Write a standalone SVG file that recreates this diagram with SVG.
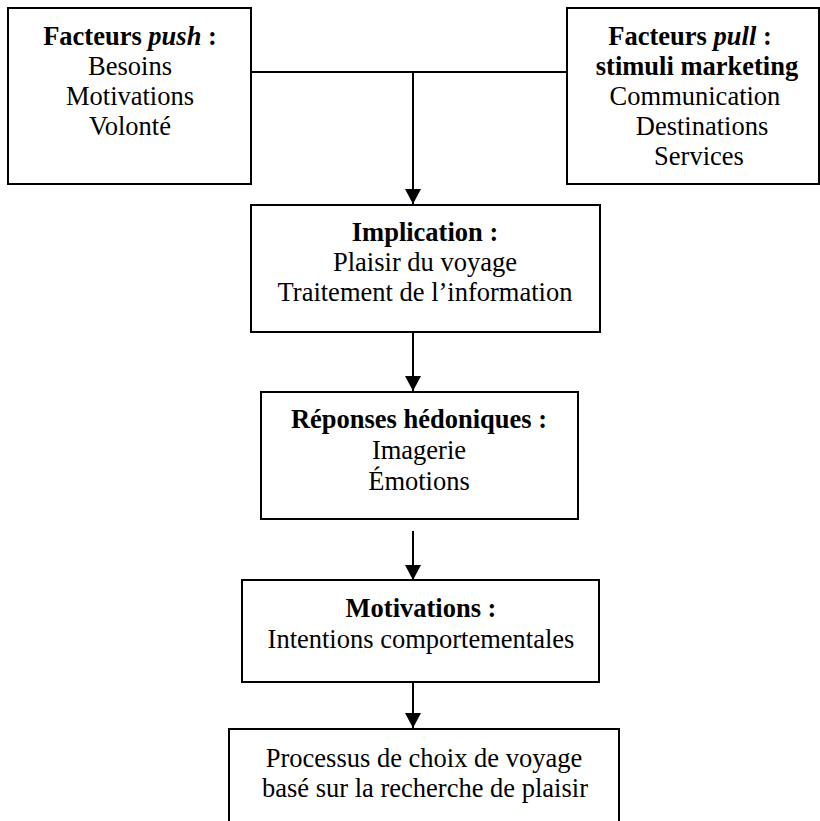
<svg xmlns="http://www.w3.org/2000/svg" width="820" height="821" viewBox="0 0 820 821">
<defs>
<marker id="ah" markerUnits="userSpaceOnUse" markerWidth="16" markerHeight="16" viewBox="0 0 16 16" refX="15" refY="8" orient="auto">
<path d="M0,0 L15,8 L0,16 Z" fill="#000"/>
</marker>
<style>
.box{fill:#fff;stroke:#000;stroke-width:2}
.t{font-family:"Liberation Serif","Times New Roman",serif;font-size:26.5px;fill:#000;text-anchor:middle}
.b{font-weight:bold}
.c{fill:none;stroke:#000;stroke-width:2}
</style>
</defs>
<rect width="820" height="821" fill="#fff"/>
<g id="connectors">
<line class="c" x1="251" y1="72" x2="567" y2="72"/>
<line class="c" x1="413" y1="72" x2="413" y2="204" marker-end="url(#ah)"/>
<line class="c" x1="413" y1="332" x2="413" y2="391" marker-end="url(#ah)"/>
<line class="c" x1="413" y1="531" x2="413" y2="580" marker-end="url(#ah)"/>
<line class="c" x1="413" y1="682" x2="413" y2="728" marker-end="url(#ah)"/>
</g>
<g id="push">
<rect class="box" x="8" y="8" width="243" height="176"/>
<text class="t" x="130" y="45"><tspan class="b">Facteurs </tspan><tspan class="b" font-style="italic">push</tspan><tspan class="b"> :</tspan></text>
<text class="t" x="130" y="75">Besoins</text>
<text class="t" x="130" y="105">Motivations</text>
<text class="t" x="130" y="135">Volonté</text>
</g>
<g id="pull">
<rect class="box" x="567" y="8" width="252" height="176"/>
<text class="t" x="690" y="45"><tspan class="b">Facteurs </tspan><tspan class="b" font-style="italic">pull</tspan><tspan class="b"> :</tspan></text>
<text class="t b" x="697" y="75">stimuli marketing</text>
<text class="t" x="695" y="105">Communication</text>
<text class="t" x="702" y="135">Destinations</text>
<text class="t" x="699" y="165">Services</text>
</g>
<g id="implication">
<rect class="box" x="251" y="205" width="349" height="127"/>
<text class="t b" x="425" y="241">Implication :</text>
<text class="t" x="425" y="271">Plaisir du voyage</text>
<text class="t" x="425" y="301">Traitement de l’information</text>
</g>
<g id="reponses">
<rect class="box" x="261" y="392" width="317" height="127"/>
<text class="t b" x="419" y="428">Réponses hédoniques :</text>
<text class="t" x="419" y="459">Imagerie</text>
<text class="t" x="419" y="490">Émotions</text>
</g>
<g id="motivations">
<rect class="box" x="242" y="580" width="357" height="102"/>
<text class="t b" x="421" y="617">Motivations :</text>
<text class="t" x="421" y="648">Intentions comportementales</text>
</g>
<g id="processus">
<rect class="box" x="229" y="729" width="390" height="110"/>
<text class="t" x="424" y="767">Processus de choix de voyage</text>
<text class="t" x="425" y="797">basé sur la recherche de plaisir</text>
</g>
</svg>
